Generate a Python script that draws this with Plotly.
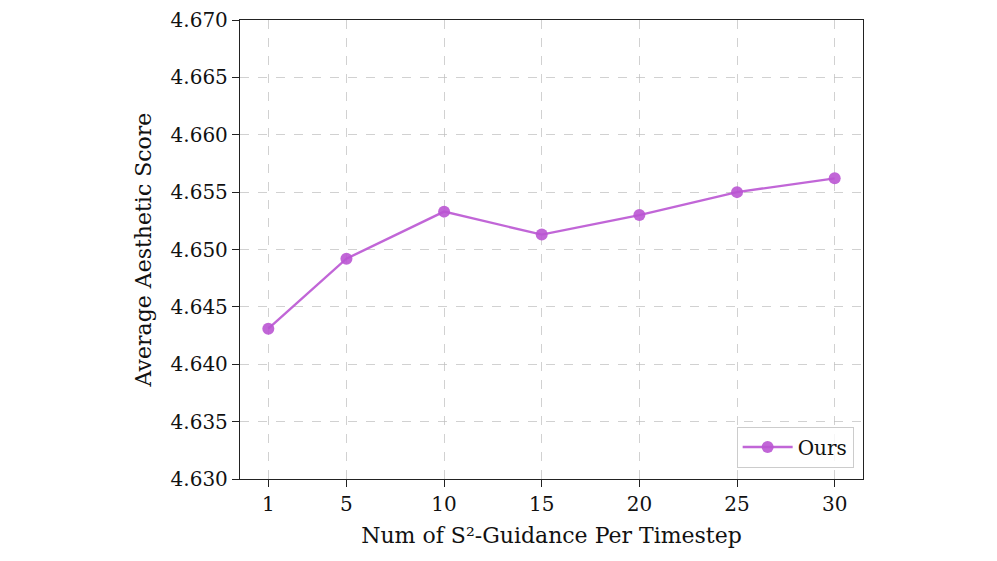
import plotly.graph_objects as go

x_vals = [1, 5, 10, 15, 20, 25, 30]
y_vals = [4.6431, 4.6492, 4.6533, 4.6513, 4.6530, 4.6550, 4.6562]
series_name = "Ours"
y_ticks = [4.630, 4.635, 4.640, 4.645, 4.650, 4.655, 4.660, 4.665, 4.670]

font_family = "DejaVu Serif"
color = "rgba(186,85,211,0.9)"

fig = go.Figure()
fig.add_trace(go.Scatter(
    x=x_vals, y=y_vals, mode="lines+markers", name=series_name,
    line=dict(color=color, width=2.4),
    marker=dict(color=color, size=12),
))

axis_common = dict(
    showline=True, linecolor="#222222", linewidth=1.3, mirror=True,
    ticks="outside", ticklen=7, tickwidth=1.3, tickcolor="#222222",
    showgrid=True, gridcolor="rgba(190,190,190,0.7)", griddash="dash", gridwidth=1,
    zeroline=False, automargin=False,
    tickfont=dict(family=font_family, size=20, color="#111111"),
)

fig.update_layout(
    width=997, height=561,
    margin=dict(l=232, r=142, t=12, b=90),
    paper_bgcolor="white", plot_bgcolor="white",
    font=dict(family=font_family, color="#111111"),
    xaxis=dict(
        **axis_common,
        range=[-0.45, 31.45],
        tickvals=x_vals, ticktext=[str(v) for v in x_vals],
        title=dict(text="Num of S²-Guidance Per Timestep", font=dict(family=font_family, size=22), standoff=12),
    ),
    yaxis=dict(
        **axis_common,
        range=[4.630, 4.670],
        tickvals=y_ticks, ticktext=[f"{v:.3f}" for v in y_ticks],
        title=dict(text="Average Aesthetic Score", font=dict(family=font_family, size=22), standoff=12),
    ),
    legend=dict(
        x=0.985, y=0.025, xanchor="right", yanchor="bottom",
        bgcolor="rgba(255,255,255,0.8)", bordercolor="#cccccc", borderwidth=1,
        font=dict(family=font_family, size=20),
        itemwidth=50, tracegroupgap=0,
    ),
    showlegend=True,
)

fig.write_html("out.html")
